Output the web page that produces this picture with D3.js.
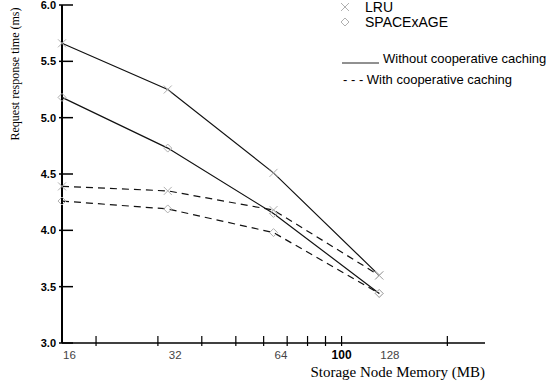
<!DOCTYPE html>
<html>
<head>
<meta charset="utf-8">
<script src="https://cdn.jsdelivr.net/npm/d3@7"></script>
<style>
	body { margin: 0; background: #fff; }
	svg { display: block; }
</style>
</head>
<body>
<div class="chart"></div>
<script>
// values
const memory = [16, 32, 64, 128];
const lruWithout = [5.66, 5.25, 4.51, 3.60];
const spaceWithout = [5.18, 4.73, 4.15, 3.44];
const lruWith = [4.39, 4.35, 4.18, 3.60];
const spaceWith = [4.26, 4.19, 3.98, 3.44];

const yTicks = [3.0, 3.5, 4.0, 4.5, 5.0, 5.5, 6.0];
const xMinorTicks = [20, 30, 40, 50, 60, 70, 80, 90, 100, 200];
const xLabels = [16, 32, 64, 100, 128];

const series = [
	{name: 'LRU', values: lruWithout, dashed: false, marker: 'cross'},
	{name: 'SPACExAGE', values: spaceWithout, dashed: false, marker: 'diamond'},
	{name: 'LRU', values: lruWith, dashed: true, marker: 'cross'},
	{name: 'SPACExAGE', values: spaceWith, dashed: true, marker: 'diamond'}
];

function charting() {
	const width = 557;
	const height = 381;
	const svg = d3.select('.chart')
		.append('svg')
		.attr('width', width)
		.attr('height', height);

	const x = d3.scaleLog().domain([16, 256]).range([62, 485]);
	const y = d3.scaleLinear().domain([3, 6]).range([343, 5]);
	const y0 = y(3);

	// y axis
	svg.append('line')
		.attr('x1', x(16)).attr('x2', x(16))
		.attr('y1', y(6)).attr('y2', y0)
		.attr('stroke', '#000').attr('stroke-width', 2);

	svg.selectAll('.ytick')
		.data(yTicks)
		.enter()
		.append('line')
		.attr('x1', x(16) - 3)
		.attr('x2', x(16) + 11)
		.attr('y1', d => y(d))
		.attr('y2', d => y(d))
		.attr('stroke', '#000')
		.attr('stroke-width', 1.5);

	svg.selectAll('.ylabel')
		.data(yTicks)
		.enter()
		.append('text')
		.attr('x', x(16) - 6)
		.attr('y', d => y(d) + 4)
		.attr('text-anchor', 'end')
		.style('font', 'bold 11px "Liberation Sans", Arial, sans-serif')
		.text(d => d.toFixed(1));

	svg.append('text')
		.attr('transform', 'translate(19,' + 74 + ') rotate(-90)')
		.attr('text-anchor', 'middle')
		.style('font', '12px "Liberation Serif", "Times New Roman", serif')
		.text('Request response time (ms)');

	// x axis
	svg.append('line')
		.attr('x1', x(16)).attr('x2', x(256))
		.attr('y1', y0).attr('y2', y0)
		.attr('stroke', '#000').attr('stroke-width', 1.5);

	svg.selectAll('.xtick')
		.data(xMinorTicks)
		.enter()
		.append('line')
		.attr('x1', d => x(d))
		.attr('x2', d => x(d))
		.attr('y1', y0 - 7)
		.attr('y2', y0 + 3)
		.attr('stroke', '#000')
		.attr('stroke-width', 1.2);

	svg.selectAll('.xlabel')
		.data(xLabels)
		.enter()
		.append('text')
		.attr('x', d => d === 100 ? x(d) : x(d) + 1)
		.attr('y', y0 + 16)
		.attr('text-anchor', d => d === 100 ? 'middle' : 'start')
		.attr('fill', d => d === 100 ? '#000' : '#444')
		.style('font-family', '"Liberation Sans", Arial, sans-serif')
		.style('font-size', d => d === 100 ? '12px' : '11.5px')
		.style('font-weight', d => d === 100 ? 'bold' : 'normal')
		.text(d => d);

	svg.append('text')
		.attr('x', x(256))
		.attr('y', 377)
		.attr('text-anchor', 'end')
		.style('font', '15px "Liberation Serif", "Times New Roman", serif')
		.text('Storage Node Memory (MB)');

	// lines
	const line = d3.line()
		.x((d, i) => x(memory[i]))
		.y(d => y(d));

	svg.selectAll('.series')
		.data(series)
		.enter()
		.append('path')
		.attr('d', d => line(d.values))
		.attr('fill', 'none')
		.attr('stroke', '#111')
		.attr('stroke-width', 1.2)
		.attr('stroke-dasharray', d => d.dashed ? '7,5' : null);

	// markers
	const markerPath = (m, cx, cy) => {
		if (m === 'cross') {
			return 'M' + (cx - 4) + ',' + (cy - 4) + 'L' + (cx + 4) + ',' + (cy + 4) +
				'M' + (cx - 4) + ',' + (cy + 4) + 'L' + (cx + 4) + ',' + (cy - 4);
		}
		return 'M' + (cx - 4) + ',' + cy + 'L' + cx + ',' + (cy - 4) + 'L' + (cx + 4) + ',' + cy +
			'L' + cx + ',' + (cy + 4) + 'Z';
	};

	series.forEach(s => {
		svg.selectAll(null)
			.data(s.values)
			.enter()
			.append('path')
			.attr('d', (d, i) => markerPath(s.marker, x(memory[i]), y(d)))
			.attr('fill', 'none')
			.attr('stroke', '#b0b0b0')
			.attr('stroke-width', 1);
	});

	// legend
	const legendMarkers = [{name: 'LRU', marker: 'cross', y: 7}, {name: 'SPACExAGE', marker: 'diamond', y: 22}];
	legendMarkers.forEach(l => {
		svg.append('path')
			.attr('d', markerPath(l.marker, 345, l.y))
			.attr('fill', 'none')
			.attr('stroke', '#b0b0b0');
		svg.append('text')
			.attr('x', 365)
			.attr('y', l.y + 5)
			.style('font', '14px "Liberation Sans", Arial, sans-serif')
			.text(l.name);
	});

	svg.append('line')
		.attr('x1', 342).attr('x2', 379)
		.attr('y1', 63).attr('y2', 63)
		.attr('stroke', '#222').attr('stroke-width', 1);
	svg.append('text')
		.attr('x', 383).attr('y', 63)
		.style('font', '13px "Liberation Sans", Arial, sans-serif')
		.text('Without cooperative caching');

	svg.append('text')
		.attr('x', 343).attr('y', 84)
		.style('font', '13px "Liberation Sans", Arial, sans-serif')
		.text('- - - With cooperative caching');
}

charting();
</script>
</body>
</html>
